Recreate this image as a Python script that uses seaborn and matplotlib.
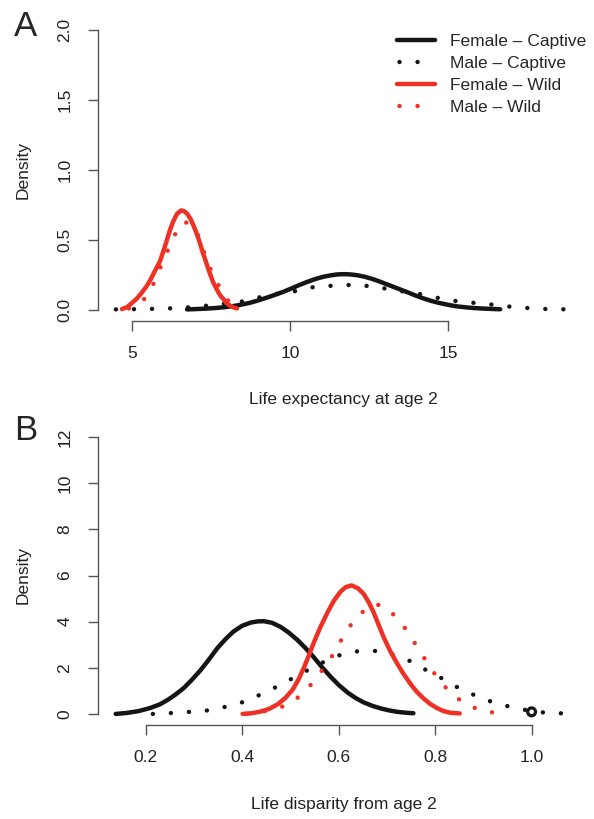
import seaborn as sns
import matplotlib.pyplot as plt

# panel A: life expectancy at age 2 (density curves)
a_fc_x = [6.74, 7.0, 7.3, 7.6, 7.9, 8.15, 8.4, 8.73, 8.95, 9.2, 9.5, 9.78, 10.05, 10.3, 10.55, 10.8, 11.05, 11.3, 11.5, 11.71,
          11.9, 12.1, 12.35, 12.6, 12.85, 13.1, 13.4, 13.7, 13.95, 14.2, 14.45, 14.7, 15.06, 15.3, 15.6, 15.85, 16.1, 16.4, 16.65]
a_fc_y = [0.003, 0.005, 0.008, 0.012, 0.018, 0.025, 0.034, 0.05, 0.064, 0.082, 0.105, 0.128, 0.153, 0.178, 0.2, 0.22, 0.236, 0.247, 0.253, 0.255,
          0.253, 0.248, 0.237, 0.221, 0.201, 0.179, 0.153, 0.127, 0.104, 0.083, 0.065, 0.05, 0.033, 0.024, 0.017, 0.012, 0.009, 0.006, 0.004]
a_mc_x = [4.49, 5.5, 6.5, 7.4, 8.5, 9.05, 9.6, 10.22, 10.79, 11.36, 11.93, 12.5, 13.07, 13.6, 14.18, 14.78, 15.32, 15.9, 16.49, 17.06, 17.66, 18.2, 18.9]
a_mc_y = [0.003, 0.006, 0.012, 0.03, 0.06, 0.09, 0.115, 0.135, 0.165, 0.172, 0.178, 0.17, 0.15, 0.13, 0.11, 0.08, 0.06, 0.048, 0.035, 0.02, 0.01, 0.005, 0.003]
a_fw_x = [4.68, 4.85, 5.0, 5.15, 5.3, 5.45, 5.57, 5.73, 5.89, 6.05, 6.2, 6.3, 6.42, 6.55, 6.65, 6.75, 6.85, 6.93, 7.02,
          7.1, 7.18, 7.25, 7.33, 7.4, 7.48, 7.56, 7.64, 7.72, 7.8, 7.88, 7.98, 8.1, 8.2, 8.32]
a_fw_y = [0.005, 0.02, 0.05, 0.08, 0.12, 0.165, 0.21, 0.28, 0.35, 0.46, 0.57, 0.63, 0.685, 0.71, 0.705, 0.685, 0.65, 0.61, 0.56,
          0.51, 0.455, 0.40, 0.35, 0.30, 0.25, 0.20, 0.165, 0.13, 0.10, 0.08, 0.05, 0.03, 0.018, 0.01]
a_mw_x = [4.9, 5.2, 5.45, 5.63, 5.85, 6.08, 6.3, 6.5, 6.65, 6.85, 7.03, 7.22, 7.4, 7.66, 7.91, 8.1, 8.3]
a_mw_y = [0.01, 0.04, 0.09, 0.16, 0.28, 0.40, 0.51, 0.60, 0.63, 0.61, 0.57, 0.45, 0.33, 0.21, 0.10, 0.05, 0.02]

# panel B: life disparity from age 2
b_fc_x = [0.138, 0.16, 0.185, 0.21, 0.23, 0.246, 0.262, 0.279, 0.296, 0.314, 0.332, 0.349, 0.366, 0.382, 0.4, 0.418, 0.432, 0.445,
          0.462, 0.48, 0.497, 0.515, 0.532, 0.548, 0.565, 0.583, 0.6, 0.619, 0.636, 0.652, 0.67, 0.687, 0.705, 0.722, 0.74, 0.755]
b_fc_y = [0.0, 0.04, 0.12, 0.26, 0.42, 0.61, 0.84, 1.12, 1.48, 1.90, 2.38, 2.86, 3.25, 3.57, 3.82, 3.96, 4.01, 4.02,
          3.95, 3.77, 3.52, 3.20, 2.84, 2.47, 2.04, 1.62, 1.26, 0.92, 0.68, 0.50, 0.35, 0.24, 0.15, 0.09, 0.05, 0.03]
b_mc_x = [0.215, 0.254, 0.291, 0.328, 0.366, 0.403, 0.436, 0.471, 0.505, 0.536, 0.571, 0.606, 0.643, 0.681, 0.716, 0.751, 0.784, 0.818, 0.849, 0.884, 0.919, 0.957, 1.0, 1.031, 1.068]
b_mc_y = [0.0, 0.04, 0.09, 0.15, 0.31, 0.52, 0.82, 1.17, 1.55, 1.90, 2.27, 2.58, 2.73, 2.73, 2.55, 2.27, 1.87, 1.50, 1.12, 0.79, 0.51, 0.30, 0.12, 0.05, 0.02]
b_fw_x = [0.401, 0.42, 0.438, 0.456, 0.474, 0.49, 0.505, 0.517, 0.528, 0.538, 0.548, 0.562, 0.577, 0.59, 0.604, 0.615, 0.627,
          0.64, 0.652, 0.663, 0.673, 0.683, 0.693, 0.707, 0.722, 0.735, 0.749, 0.762, 0.776, 0.79, 0.805, 0.818, 0.832, 0.851]
b_fw_y = [0.0, 0.03, 0.10, 0.22, 0.42, 0.70, 1.06, 1.50, 2.00, 2.52, 3.06, 3.75, 4.40, 4.90, 5.30, 5.50, 5.57,
          5.45, 5.20, 4.82, 4.38, 3.86, 3.34, 2.72, 2.16, 1.72, 1.30, 0.96, 0.67, 0.43, 0.24, 0.12, 0.05, 0.02]
b_mw_x = [0.41, 0.43, 0.457, 0.492, 0.523, 0.548, 0.571, 0.592, 0.61, 0.631, 0.658, 0.676, 0.693, 0.722, 0.745, 0.764, 0.784, 0.805, 0.83, 0.859, 0.896, 0.932]
b_mw_y = [0.0, 0.05, 0.16, 0.37, 0.82, 1.39, 2.04, 2.68, 3.38, 4.03, 4.59, 4.75, 4.68, 4.16, 3.51, 2.86, 2.21, 1.56, 0.95, 0.48, 0.13, 0.03]
b_circle_x = [1.0]
b_circle_y = [0.09]

labels = ['Female \u2013 Captive', 'Male \u2013 Captive', 'Female \u2013 Wild', 'Male \u2013 Wild']

sns.set_theme(style='ticks')
plt.rcParams['font.family'] = ['Liberation Sans', 'DejaVu Sans']

BLACK = '#151515'
RED = '#EE3124'
AXC = '#555555'
dots = (0, (0.01, 4.05))

fig = plt.figure(figsize=(5.94, 8.19), dpi=100)
axA = fig.add_axes([97.6 / 594, 1 - 321 / 819, 492 / 594, 302.2 / 819])
axB = fig.add_axes([97.6 / 594, 1 - 725 / 819, 492 / 594, 299 / 819])


def curves(ax, series):
    for (x, y, col, ls), lab in zip(series, labels):
        sns.lineplot(x=x, y=y, ax=ax, color=col, linewidth=3.2, linestyle=ls,
                     dash_capstyle='round', solid_capstyle='round',
                     solid_joinstyle='round', label=lab,
                     errorbar=None, sort=False)


curves(axA, [(a_fc_x, a_fc_y, BLACK, '-'), (a_mc_x, a_mc_y, BLACK, dots),
             (a_fw_x, a_fw_y, RED, '-'), (a_mw_x, a_mw_y, RED, dots)])
curves(axB, [(b_fc_x, b_fc_y, BLACK, '-'), (b_mc_x, b_mc_y, BLACK, dots),
             (b_fw_x, b_fw_y, RED, '-'), (b_mw_x, b_mw_y, RED, dots)])
sns.scatterplot(x=b_circle_x, y=b_circle_y, ax=axB, marker='o', s=32,
                facecolor='none', edgecolor=BLACK, linewidth=2.3, zorder=5)

axA.set_xlim(3.91, 19.48)
axA.set_ylim(-0.08, 2.08)
axA.set_xticks([5, 10, 15])
axA.set_yticks([0, 0.5, 1.0, 1.5, 2.0])
axA.set_yticklabels(['0.0', '0.5', '1.0', '1.5', '2.0'])
axA.spines['left'].set_bounds(0, 2)
axA.spines['bottom'].set_bounds(5, 15)

axB.set_xlim(0.1005, 1.1202)
axB.set_ylim(-0.48, 12.48)
axB.set_xticks([0.2, 0.4, 0.6, 0.8, 1.0])
axB.set_xticklabels(['0.2', '0.4', '0.6', '0.8', '1.0'])
axB.set_yticks([0, 2, 4, 6, 8, 10, 12])
axB.spines['left'].set_bounds(0, 12)
axB.spines['bottom'].set_bounds(0.2, 1.0)

for ax in (axA, axB):
    sns.despine(ax=ax)
    for s in ('left', 'bottom'):
        ax.spines[s].set_color(AXC)
        ax.spines[s].set_linewidth(1.0)
    ax.tick_params(length=7.2, width=1.0, color=AXC, pad=11, labelsize=12.5, labelcolor='#222222')
    ax.tick_params(axis='y', labelrotation=90)
    for t in ax.get_yticklabels():
        t.set_va('center')
    ax.set_ylabel('Density', fontsize=12.5, va='center', color='#222222')
    ax.yaxis.set_label_coords((23.5 - 97.6) / 492, 0.5)

axA.set_xlabel('Life expectancy at age 2', fontsize=12.5, va='center', color='#222222')
axA.xaxis.set_label_coords(0.5, -(400 - 321) / 302.2)
axB.set_xlabel('Life disparity from age 2', fontsize=12.5, va='center', color='#222222')
axB.xaxis.set_label_coords(0.5, -(805 - 725) / 299)

axB.get_legend().remove()
leg = axA.legend(loc='upper left', bbox_to_anchor=(397 / 594, 1 - 34 / 819),
                 bbox_transform=fig.transFigure, frameon=False, borderpad=0,
                 borderaxespad=0, handlelength=2.18, handletextpad=0.86,
                 labelspacing=0.4, fontsize=12.5)
for ln in leg.get_lines()[1::2]:
    ln.set_linestyle((3.5, (0.01, 4.05)))

fig.text(26 / 594, 1 - 27 / 819, 'A', fontsize=25, ha='center', va='center')
fig.text(26 / 594, 1 - 431 / 819, 'B', fontsize=25, ha='center', va='center')

plt.savefig('out.png', dpi=100)
plt.close()
